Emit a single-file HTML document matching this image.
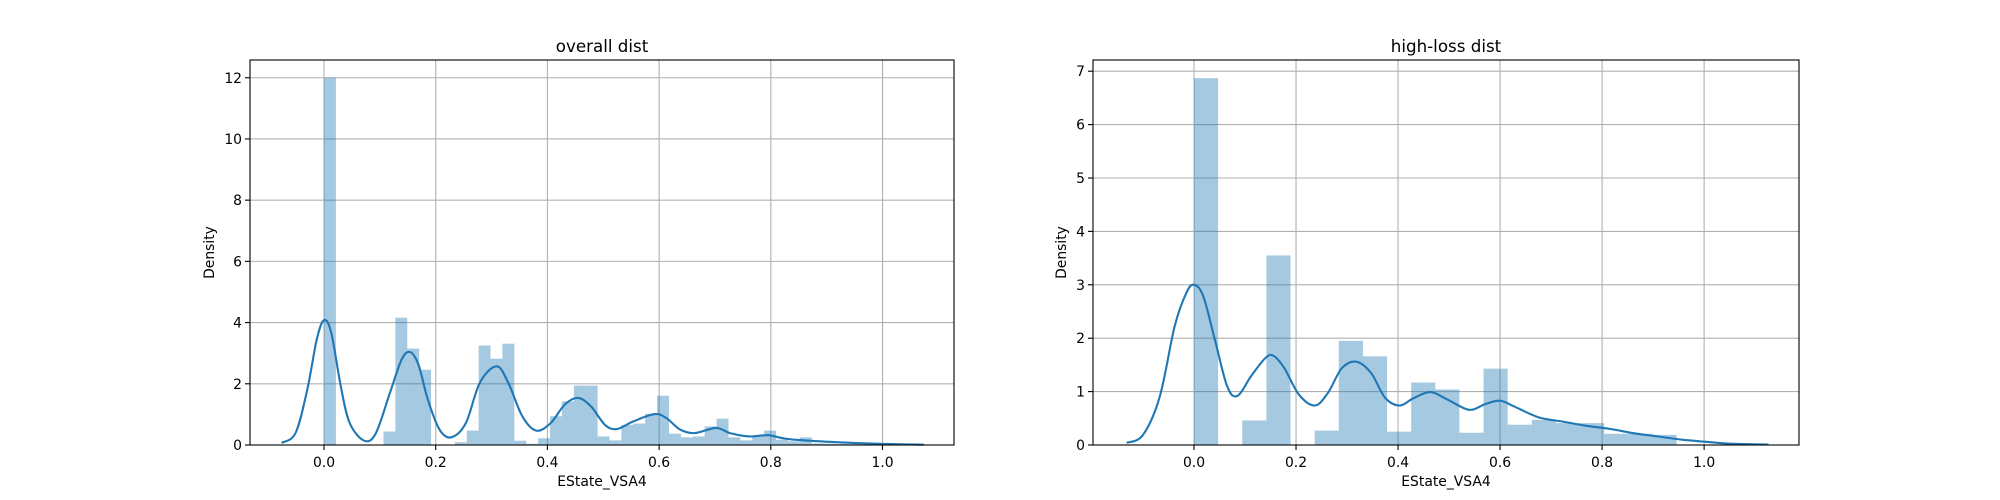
<!DOCTYPE html>
<html><head><meta charset="utf-8"><style>
html,body{margin:0;padding:0;background:#fff;}
svg{display:block;font-family:"DejaVu Sans","Liberation Sans",sans-serif;}
</style></head><body>
<svg id="fig" width="2000" height="500" viewBox="0 0 2000 500" xmlns="http://www.w3.org/2000/svg"></svg>
<script>
// ---- Left chart data (overall dist) ----
const leftBinWidth = 0.0213;
const leftBarHeights = [12,0,0,0,0,0.44,4.16,3.15,2.46,0,0,0.09,0.47,3.25,2.82,3.31,0.14,0.04,0.22,0.94,1.43,1.94,1.94,0.28,0.15,0.66,0.70,1.02,1.61,0.37,0.25,0.28,0.61,0.86,0.25,0.15,0.28,0.47,0.17,0.12,0.25,0.05,0.04,0.03,0.03,0.02,0.02,0.02,0.01,0.01];
const leftKdeX = [-0.076,-0.051,-0.03,-0.013,0,0.013,0.03,0.046,0.072,0.093,0.118,0.139,0.154,0.169,0.186,0.207,0.228,0.254,0.279,0.309,0.33,0.355,0.38,0.406,0.431,0.455,0.478,0.503,0.524,0.554,0.592,0.613,0.638,0.664,0.702,0.727,0.761,0.795,0.829,0.888,0.947,1.014,1.074];
const leftKdeY = [0.07,0.39,1.8,3.44,4.08,3.66,1.92,0.72,0.14,0.39,1.70,2.79,3.04,2.63,1.48,0.5,0.25,0.72,2.03,2.57,2.03,0.94,0.47,0.72,1.32,1.54,1.26,0.66,0.52,0.77,1.01,0.88,0.5,0.39,0.56,0.39,0.28,0.32,0.2,0.12,0.07,0.03,0.01];
const leftXTicks = [0.0,0.2,0.4,0.6,0.8,1.0];
const leftXTickLabels = ["0.0","0.2","0.4","0.6","0.8","1.0"];
const leftYTicks = [0,2,4,6,8,10,12];
const leftYTickLabels = ["0","2","4","6","8","10","12"];

// ---- Right chart data (high-loss dist) ----
const rightBinWidth = 0.0473;
const rightBarHeights = [6.87,0,0.46,3.55,0,0.27,1.95,1.66,0.25,1.17,1.04,0.23,1.43,0.38,0.47,0.41,0.41,0.21,0.21,0.19];
const rightKdeX = [-0.132,-0.1,-0.067,-0.038,-0.015,0,0.018,0.041,0.065,0.085,0.112,0.14,0.156,0.177,0.206,0.237,0.262,0.29,0.318,0.347,0.375,0.403,0.431,0.464,0.497,0.539,0.572,0.6,0.628,0.675,0.722,0.769,0.816,0.863,0.91,0.957,1.004,1.051,1.126];
const rightKdeY = [0.04,0.19,0.91,2.22,2.85,3.0,2.79,1.97,1.10,0.92,1.29,1.63,1.67,1.44,0.94,0.74,0.97,1.44,1.56,1.35,0.88,0.74,0.88,0.99,0.85,0.66,0.77,0.83,0.72,0.52,0.44,0.36,0.30,0.22,0.16,0.10,0.06,0.025,0.01];
const rightXTicks = [0.0,0.2,0.4,0.6,0.8,1.0];
const rightXTickLabels = ["0.0","0.2","0.4","0.6","0.8","1.0"];
const rightYTicks = [0,1,2,3,4,5,6,7];
const rightYTickLabels = ["0","1","2","3","4","5","6","7"];

const NS = "http://www.w3.org/2000/svg";
const fig = document.getElementById('fig');
function mk(tag, attrs, parent){
  const e = document.createElementNS(NS, tag);
  for (const k in attrs) e.setAttribute(k, attrs[k]);
  parent.appendChild(e);
  return e;
}
function smoothPath(p){
  let d = 'M' + p[0][0].toFixed(1) + ',' + p[0][1].toFixed(1);
  for (let i = 0; i < p.length - 1; i++){
    const p0 = p[Math.max(0, i - 1)], p1 = p[i], p2 = p[i + 1], p3 = p[Math.min(p.length - 1, i + 2)];
    const c1x = p1[0] + (p2[0] - p0[0]) / 6, c1y = p1[1] + (p2[1] - p0[1]) / 6;
    const c2x = p2[0] - (p3[0] - p1[0]) / 6, c2y = p2[1] - (p3[1] - p1[1]) / 6;
    d += ' C' + c1x.toFixed(1) + ',' + c1y.toFixed(1) + ' ' + c2x.toFixed(1) + ',' + c2y.toFixed(1) + ' ' + p2[0].toFixed(1) + ',' + p2[1].toFixed(1);
  }
  return d;
}

function drawChart(opt){
  const g = mk('g', {}, fig);
  
  
  const L = opt.left, R = opt.right, T = 60, B = 445;
  const sx = v => L + (v - opt.xmin) / (opt.xmax - opt.xmin) * (R - L);
  const sy = v => B - (v - opt.ymin) / (opt.ymax - opt.ymin) * (B - T);

  const grid = mk('g', {stroke:'#b0b0b0','stroke-width':1.1}, g);
  
  
  opt.xTicks.forEach(t => { mk('line', {x1:sx(t), x2:sx(t), y1:T, y2:B}, grid); });
  opt.yTicks.forEach(t => { mk('line', {x1:L, x2:R, y1:sy(t), y2:sy(t)}, grid); });

  const bars = mk('g', {fill:'#1f77b4','fill-opacity':0.4}, g);
  
  
  opt.bars.forEach((h, i) => {
    if (h <= 0) return;
    const x0 = sx(i * opt.binWidth), x1 = sx((i + 1) * opt.binWidth);
    const r = mk('rect', {x:x0, y:sy(h), width:x1 - x0, height:sy(0) - sy(h)}, bars);
    
    
  });

  const pts = opt.kdeX.map((x, i) => [sx(x), sy(opt.kdeY[i])]);
  const kde = mk('path', {d:smoothPath(pts), fill:'none', stroke:'#1f77b4', 'stroke-width':2.1, 'stroke-linejoin':'round'}, g);
  
  

  const frame = mk('rect', {x:L, y:T, width:R - L, height:B - T, fill:'none', stroke:'#000', 'stroke-width':1.1}, g);
  
  

  const tk = mk('g', {stroke:'#000','stroke-width':1.1}, g);
  
  
  const lbl = mk('g', {'font-size':'13.9px', fill:'#000'}, g);
  
  
  opt.xTicks.forEach((t, i) => {
    mk('line', {x1:sx(t), x2:sx(t), y1:B, y2:B + 5}, tk);
    const e = mk('text', {x:sx(t), y:B + 22, 'text-anchor':'middle'}, lbl);
    e.textContent = opt.xLabels[i];
    
    
  });
  opt.yTicks.forEach((t, i) => {
    mk('line', {x1:L - 5, x2:L, y1:sy(t), y2:sy(t)}, tk);
    const e = mk('text', {x:L - 8, y:sy(t) + 5, 'text-anchor':'end'}, lbl);
    e.textContent = opt.yLabels[i];
    
    
  });

  const title = mk('text', {x:(L + R) / 2, y:52, 'text-anchor':'middle', 'font-size':'16.7px', fill:'#000'}, g);
  title.textContent = opt.title;
  
  

  const xl = mk('text', {x:(L + R) / 2, y:486, 'text-anchor':'middle', 'font-size':'13.9px', fill:'#000'}, g);
  xl.textContent = 'EState_VSA4';
  
  

  const yx = opt.yTitleX, yy = (T + B) / 2;
  const yl = mk('text', {x:yx, y:yy, 'text-anchor':'middle', 'font-size':'13.9px', fill:'#000', transform:'rotate(-90 ' + yx + ' ' + yy + ')'}, g);
  yl.textContent = 'Density';
  
  
}

drawChart({name:'overall-dist-chart', title:'overall dist', left:250, right:954,
  xmin:-0.1325, xmax:1.128, ymin:0, ymax:12.58,
  binWidth:leftBinWidth, bars:leftBarHeights, kdeX:leftKdeX, kdeY:leftKdeY,
  xTicks:leftXTicks, xLabels:leftXTickLabels, yTicks:leftYTicks, yLabels:leftYTickLabels, yTitleX:214});

drawChart({name:'high-loss-dist-chart', title:'high-loss dist', left:1093, right:1799,
  xmin:-0.198, xmax:1.186, ymin:0, ymax:7.21,
  binWidth:rightBinWidth, bars:rightBarHeights, kdeX:rightKdeX, kdeY:rightKdeY,
  xTicks:rightXTicks, xLabels:rightXTickLabels, yTicks:rightYTicks, yLabels:rightYTickLabels, yTitleX:1066});
</script>
</body></html>
